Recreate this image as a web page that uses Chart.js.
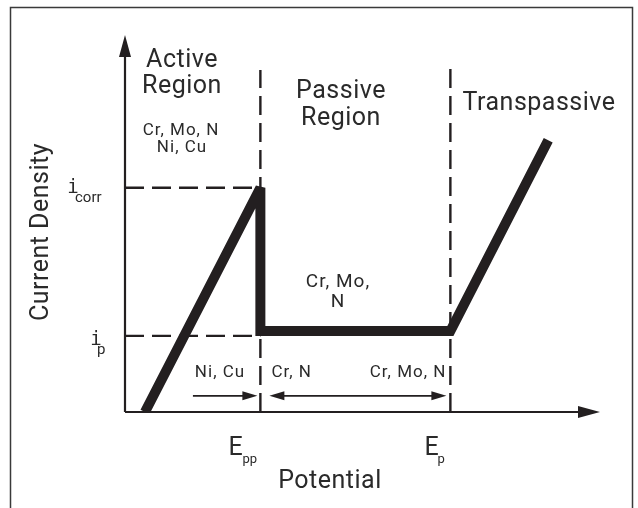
<!DOCTYPE html>
<html>
<head>
<meta charset="utf-8">
<script src="https://cdn.jsdelivr.net/npm/chart.js@4.4.1/dist/chart.umd.min.js"></script>
<style>
  html, body { margin: 0; padding: 0; background: #fff; }
  #wrap { width: 638px; height: 508px; position: relative; }
</style>
</head>
<body>
<div id="wrap"><canvas id="polarization"></canvas></div>
<script>
// schematic polarization curve, abstract units 0..100 on both axes
const potential = [4.2, 28.5, 28.5, 68.5, 89.1];
const currentDensity = [0, 59.5, 21.5, 21.5, 72.1];

const Epp = 28.5;       // primary passivation potential
const Ep = 68.5;        // pitting / transpassive potential
const icorr = 59.5;
const ipGuide = 20.2;   // guide sits on the lower edge of the passive line
const guideTopEpp = 90.7;
const guideTopEp = 92.3;

const regionLabels = ['Active', 'Region', 'Passive', 'Region', 'Transpassive'];
const elementLabels = ['Cr, Mo, N', 'Ni, Cu', 'Cr, Mo,', 'N', 'Ni, Cu', 'Cr, N', 'Cr, Mo, N'];

const ink = '#231f20';
const sans = 'Roboto, "Liberation Sans", sans-serif';

function pts(xs, ys) {
    return xs.map((x, i) => ({ x: x, y: ys[i] }));
}

function arrowHead(ctx, x, y, dir, len, half) {
    // dir: unit vector the arrow points to
    ctx.beginPath();
    ctx.moveTo(x, y);
    ctx.lineTo(x - dir[0] * len - dir[1] * half, y - dir[1] * len + dir[0] * half);
    ctx.lineTo(x - dir[0] * len + dir[1] * half, y - dir[1] * len - dir[0] * half);
    ctx.closePath();
    ctx.fill();
}

function text(ctx, str, x, y, size, align, family) {
    ctx.font = size + 'px ' + (family || sans);
    ctx.textAlign = align || 'center';
    ctx.textBaseline = 'alphabetic';
    ctx.fillText(str, x, y);
}

const joinPlugin = {
    id: 'joinLimit',
    beforeDatasetsDraw(chart) {
        chart.ctx.miterLimit = 1.5;
    }
};

const decorPlugin = {
    id: 'decor',
    afterDraw(chart) {
        const ctx = chart.ctx;
        const xs = chart.scales.x;
        const ys = chart.scales.y;
        const px = v => xs.getPixelForValue(v);
        const py = v => ys.getPixelForValue(v);
        const x0 = px(0), y0 = py(0);

        ctx.save();
        // outer frame
        ctx.strokeStyle = '#3a3a3a';
        ctx.lineWidth = 1.5;
        ctx.strokeRect(10.5, 7.5, 622, 520);

        // axes
        ctx.strokeStyle = ink;
        ctx.fillStyle = ink;
        ctx.lineWidth = 2.2;
        ctx.beginPath();
        ctx.moveTo(x0, y0);
        ctx.lineTo(x0, py(100) + 18);
        ctx.moveTo(x0, y0);
        ctx.lineTo(px(100) - 18, y0);
        ctx.stroke();
        arrowHead(ctx, x0, py(100), [0, -1], 22, 6);
        arrowHead(ctx, px(100), y0, [1, 0], 22, 6);

        // little arrows along the bottom
        const ay = py(4.3);
        ctx.lineWidth = 1.8;
        ctx.beginPath();
        ctx.moveTo(px(14.3), ay);
        ctx.lineTo(px(Epp) - 12, ay);
        ctx.moveTo(px(Epp) + 20, ay);
        ctx.lineTo(px(Ep) - 12, ay);
        ctx.stroke();
        arrowHead(ctx, px(Epp) - 3, ay, [1, 0], 15, 4.5);
        arrowHead(ctx, px(Epp) + 9, ay, [-1, 0], 15, 4.5);
        arrowHead(ctx, px(Ep) - 4, ay, [1, 0], 15, 4.5);

        ctx.fillStyle = '#2a2a2a';
        ctx.letterSpacing = '0.5px';
        // region titles
        text(ctx, regionLabels[0], 182, 67, 25);
        text(ctx, regionLabels[1], 182, 93, 25);
        text(ctx, regionLabels[2], 341, 98, 25);
        text(ctx, regionLabels[3], 341, 125, 25);
        text(ctx, regionLabels[4], 539, 110, 25);

        ctx.letterSpacing = '1px';
        // alloying element notes
        text(ctx, elementLabels[0], 181, 135, 17);
        text(ctx, elementLabels[1], 182, 152, 17);
        text(ctx, elementLabels[2], 338, 287, 19);
        text(ctx, elementLabels[3], 338, 307, 19);
        text(ctx, elementLabels[4], 220, 377, 17);
        text(ctx, elementLabels[5], px(Epp) + 11, 377, 17, 'left');
        text(ctx, elementLabels[6], px(Ep) - 4, 377, 17, 'right');

        ctx.letterSpacing = '0.5px';
        // axis titles
        text(ctx, 'Potential', 330, 488, 25);
        ctx.save();
        ctx.translate(48, 232);
        ctx.rotate(-Math.PI / 2);
        text(ctx, 'Current Density', 0, 0, 25);
        ctx.restore();

        ctx.letterSpacing = '0px';
        // tick symbols
        text(ctx, 'E', px(Epp) - 32, 455, 25, 'left');
        text(ctx, 'pp', px(Epp) - 18, 463, 13, 'left');
        text(ctx, 'E', px(Ep) - 26, 455, 25, 'left');
        text(ctx, 'p', px(Ep) - 13, 463, 13, 'left');

        text(ctx, 'i', 73, py(icorr) + 5, 19, 'center', '"DejaVu Sans Mono", monospace');
        text(ctx, 'corr', 75, py(icorr) + 14, 15, 'left');
        text(ctx, 'i', 96, py(ipGuide) + 9, 19, 'center', '"DejaVu Sans Mono", monospace');
        text(ctx, 'p', 97, py(ipGuide) + 18, 15, 'left');
        ctx.restore();
    }
};

const guideStyle = {
    showLine: true,
    borderColor: ink,
    borderWidth: 2.4,
    borderDash: [19, 8],
    pointRadius: 0,
    clip: false
};

new Chart(document.getElementById('polarization'), {
    type: 'scatter',
    data: {
        datasets: [
            {
                label: 'Polarization curve',
                data: pts(potential, currentDensity),
                showLine: true,
                borderColor: ink,
                borderWidth: 10,
                borderJoinStyle: 'miter',
                borderCapStyle: 'butt',
                pointRadius: 0,
                tension: 0,
                clip: { left: false, top: false, right: false, bottom: 0 }
            },
            Object.assign({ label: 'Epp', data: pts([Epp, Epp], [0, guideTopEpp]) }, guideStyle),
            Object.assign({ label: 'Ep', data: pts([Ep, Ep], [0, guideTopEp]) }, guideStyle),
            Object.assign({ label: 'icorr', data: pts([0, Epp], [icorr, icorr]) }, guideStyle),
            Object.assign({ label: 'ip', data: pts([0, Epp], [ipGuide, ipGuide]) }, guideStyle)
        ]
    },
    options: {
        responsive: true,
        maintainAspectRatio: false,
        animation: false,
        layout: {
            padding: { left: 125, right: 38, top: 35, bottom: 96 }
        },
        plugins: {
            legend: { display: false },
            tooltip: { enabled: false }
        },
        scales: {
            x: { type: 'linear', min: 0, max: 100, display: false },
            y: { type: 'linear', min: 0, max: 100, display: false }
        }
    },
    plugins: [joinPlugin, decorPlugin]
});
</script>
</body>
</html>
